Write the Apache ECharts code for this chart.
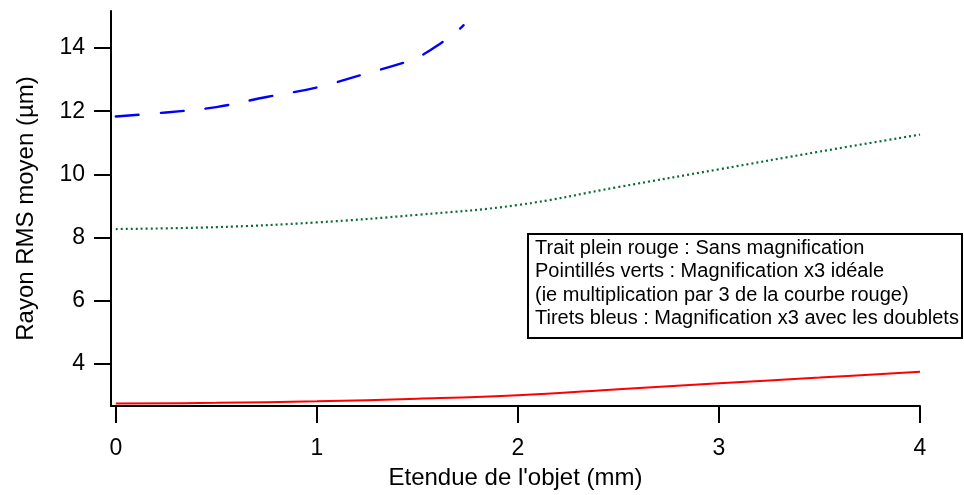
<!DOCTYPE html>
<html><head><meta charset="utf-8">
<script src="https://cdn.jsdelivr.net/npm/echarts@6/dist/echarts.min.js"></script>
<style>html,body{margin:0;padding:0;background:#fff}#c{width:964px;height:495px}</style>
</head><body><div id="c"></div>
<script>
// ---- data ----
var xRG = [0, 0.5, 1, 1.5, 2, 2.5, 3, 3.5, 4];
var redVals = [2.75, 2.77, 2.82, 2.90, 3.01, 3.20, 3.39, 3.57, 3.75];
var greenVals = [8.27, 8.33, 8.48, 8.72, 9.03, 9.60, 10.16, 10.72, 11.26];
var xBlue = [0, 0.25, 0.5, 0.75, 1, 1.25, 1.4, 1.5, 1.6, 1.7, 1.73];
var blueVals = [11.83, 11.96, 12.13, 12.45, 12.75, 13.20, 13.47, 13.70, 14.08, 14.55, 14.72];
var xTicks = [0, 1, 2, 3, 4];
var yTicks = [4, 6, 8, 10, 12, 14];
var xTitle = "Etendue de l'objet (mm)";
var yTitle = "Rayon RMS moyen (µm)";
var legendLines = [
  "Trait plein rouge : Sans magnification",
  "Pointillés verts : Magnification x3 idéale",
  "(ie multiplication par 3 de la courbe rouge)",
  "Tirets bleus : Magnification x3 avec les doublets"
];

function pairs(xs, ys){ return xs.map(function(x,i){ return [x, ys[i]]; }); }

var FONT = "'Liberation Sans', Arial, sans-serif";
var chart = echarts.init(document.getElementById('c'), null, {renderer:'canvas'});
var legendTexts = legendLines.map(function(t, i){
  return {type:'text', left: 535, top: 238 + i*23.5,
    style:{text:t, font:'20px ' + FONT, fill:'#000'}};
});
chart.setOption({
  animation:false,
  backgroundColor:'#fff',
  grid:{left:111, right:44, top:11, bottom:89, containLabel:false},
  xAxis:{
    type:'value', min:-0.024, max:4,
    name:xTitle, nameLocation:'middle', nameGap:60,
    nameTextStyle:{fontFamily:FONT, fontSize:24, color:'#000'},
    axisLine:{show:true, onZero:false, lineStyle:{color:'#000', width:2}},
    axisTick:{show:true, inside:false, length:17, lineStyle:{color:'#000', width:2}, customValues:xTicks},
    axisLabel:{fontFamily:FONT, fontSize:23, color:'#000', margin:31, customValues:xTicks},
    splitLine:{show:false}
  },
  yAxis:{
    type:'value', min:2.67, max:15.17,
    name:yTitle, nameLocation:'middle', nameGap:73,
    nameTextStyle:{fontFamily:FONT, fontSize:24, color:'#000'},
    axisLine:{show:true, onZero:false, lineStyle:{color:'#000', width:2}},
    axisTick:{show:true, inside:false, length:17, lineStyle:{color:'#000', width:2}, customValues:yTicks},
    axisLabel:{fontFamily:FONT, fontSize:23, color:'#000', margin:26, customValues:yTicks},
    splitLine:{show:false}
  },
  series:[
    {type:'line', data:pairs(xRG, redVals), showSymbol:false, smooth:0.4,
     lineStyle:{color:'#ff0000', width:2}},
    {type:'line', data:pairs(xRG, greenVals), showSymbol:false, smooth:0.4,
     lineStyle:{color:'#0a6b38', width:2.2, type:[2,3], cap:'butt'}},
    {type:'line', data:pairs(xBlue, blueVals), showSymbol:false, smooth:0.4,
     lineStyle:{color:'#0000ff', width:2.4, type:[23,22], cap:'round'}}
  ],
  graphic:[
    {type:'rect', shape:{x:528, y:234, width:434, height:104},
     style:{fill:'#fff', stroke:'#000', lineWidth:2}}
  ].concat(legendTexts)
});
</script></body></html>
